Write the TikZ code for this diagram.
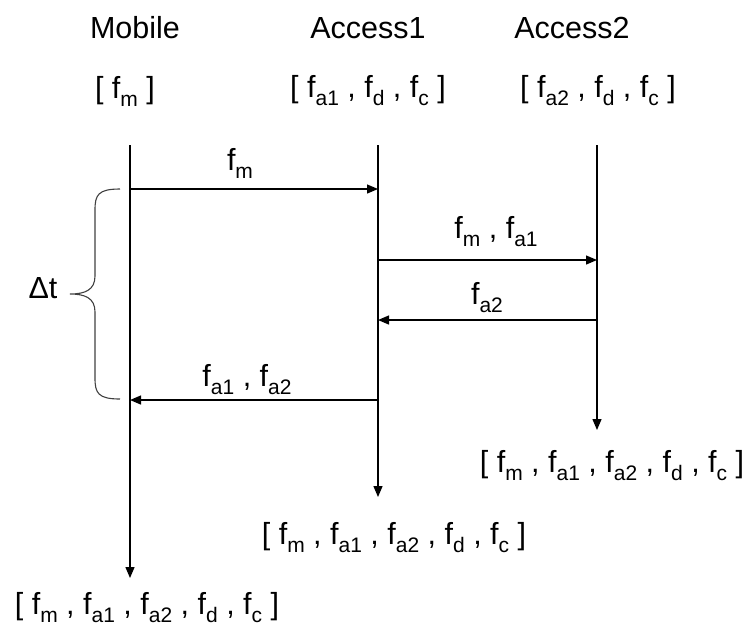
\documentclass[tikz,border=0pt]{standalone}
\usepackage{fontspec}
\setmainfont{Liberation Sans}
\usetikzlibrary{arrows.meta}
\newcommand\sbx[1]{\raisebox{-0.26em}{\fontsize{21}{21}\selectfont #1}}
\newcommand\fx[1]{f\sbx{#1}}
\begin{document}
\begin{tikzpicture}[x=1pt,y=-1pt,
  lbl/.style={inner sep=0pt,font=\fontsize{30.5}{34}\selectfont},
  life/.style={line width=1.3pt,-{Triangle[length=11pt,width=9pt]}},
  msg/.style={line width=1.3pt,-{Triangle[length=11pt,width=9pt]}}]
\useasboundingbox (0,0) rectangle (750,633);
% headers
\node[lbl] (hm) at (135,28) {Mobile};
\node[lbl] (ha1) at (368,28) {Access1};
\node[lbl] (ha2) at (572,28) {Access2};
\node[lbl] (sm) at (125,91) {[ \fx{m} ]};
\node[lbl] (sa1) at (368,91) {[ \fx{a1} , \fx{d} , \fx{c} ]};
\node[lbl] (sa2) at (598,91) {[ \fx{a2} , \fx{d} , \fx{c} ]};
% lifelines
\coordinate (m0) at (130,145); \coordinate (m1) at (130,578);
\coordinate (a0) at (378,145); \coordinate (a1) at (378,497);
\coordinate (b0) at (597,145); \coordinate (b1) at (597,430);
\draw[life] (m0) -- (m1);
\draw[life] (a0) -- (a1);
\draw[life] (b0) -- (b1);
% message endpoints
\coordinate (p1s) at (130,189); \coordinate (p1e) at (378,189);
\coordinate (p2s) at (378,260); \coordinate (p2e) at (597,260);
\coordinate (p3s) at (597,320); \coordinate (p3e) at (378,320);
\coordinate (p4s) at (378,400); \coordinate (p4e) at (130,400);
\draw[msg] (p1s) -- (p1e);
\draw[msg] (p2s) -- (p2e);
\draw[msg] (p3s) -- (p3e);
\draw[msg] (p4s) -- (p4e);
\node[lbl] (l1) at (240,163) {\fx{m}};
\node[lbl] (l2) at (496,232) {\fx{m} , \fx{a1}};
\node[lbl] (l3) at (487,298) {\fx{a2}};
\node[lbl] (l4) at (247,380) {\fx{a1} , \fx{a2}};
% final states
\node[lbl] (fb) at (612,466) {[ \fx{m} , \fx{a1} , \fx{a2} , \fx{d} , \fx{c} ]};
\node[lbl] (fa) at (394,538) {[ \fx{m} , \fx{a1} , \fx{a2} , \fx{d} , \fx{c} ]};
\node[lbl] (fm) at (147,608) {[ \fx{m} , \fx{a1} , \fx{a2} , \fx{d} , \fx{c} ]};
% brace
\coordinate (bt) at (120,189); \coordinate (bb) at (120,399); \coordinate (bp) at (70,294);
\draw[line width=1.1pt,black!75] (bt) .. controls (98,189) and (95,195) .. (95,210) -- (95,276)
  .. controls (95,290) and (85,294) .. (bp)
  .. controls (85,294) and (95,298) .. (95,312) -- (95,378)
  .. controls (95,393) and (98,399) .. (bb);
\node[lbl] (dt) at (43,288) {Δt};
\end{tikzpicture}
\end{document}
